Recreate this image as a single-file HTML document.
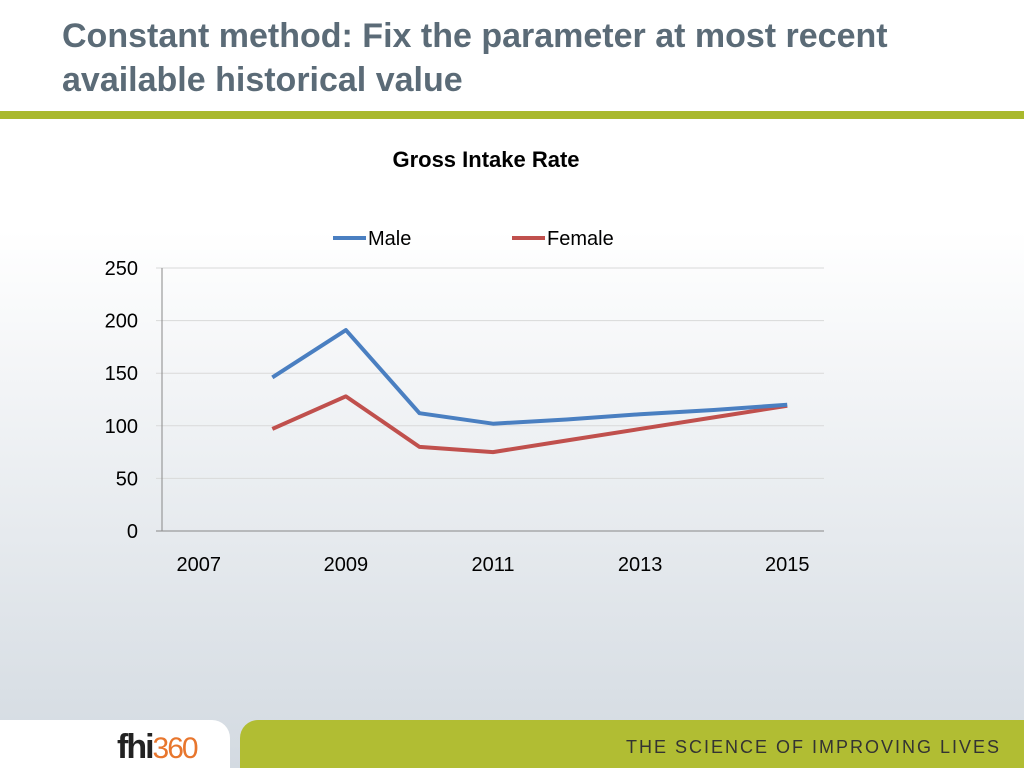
<!DOCTYPE html>
<html><head><meta charset="utf-8"><style>
body{margin:0;width:1024px;height:768px;overflow:hidden;font-family:"Liberation Sans",sans-serif;background:linear-gradient(#ffffff 0px,#ffffff 230px,#d3dae1 768px);position:relative}
.t{position:absolute;left:62px;top:14px;font-size:34px;font-weight:bold;color:#5b6b77;line-height:44px;width:920px}
</style></head><body>
<div class="t">Constant method: Fix the parameter at most recent available historical value</div>
<div style="position:absolute;left:0;top:111px;width:1024px;height:8px;background:#a9b92c"></div>
<svg width="1024" height="768" style="position:absolute;left:0;top:0" id="c">
<text x="486" y="167" text-anchor="middle" font-size="22" font-weight="bold" fill="#000">Gross Intake Rate</text>
<g>
<line x1="333" y1="238" x2="366" y2="238" stroke="#4a7fc1" stroke-width="4"/><text x="368" y="245" font-size="20">Male</text>
<line x1="512" y1="238" x2="545" y2="238" stroke="#c0504d" stroke-width="4"/><text x="547" y="245" font-size="20">Female</text>
</g>
<g id="axes"></g><g id="marks"></g>
</svg>
<div style="position:absolute;left:0;top:720px;width:230px;height:48px;background:#fff;border-top-right-radius:18px"></div>
<div style="position:absolute;left:117px;top:728px;font-size:34px;font-weight:bold;color:#222;letter-spacing:-2px">fhi<span style="color:#e8762d;font-weight:normal;font-size:30px">360</span></div>
<div style="position:absolute;left:240px;top:720px;width:784px;height:48px;background:#b1bd33;border-top-left-radius:18px"></div>
<div style="position:absolute;left:626px;top:737px;font-size:18px;letter-spacing:2px;color:#333">THE SCIENCE OF IMPROVING LIVES</div>
<script>
const years=[2007,2008,2009,2010,2011,2012,2013,2014,2015];
const tickLabels=["2007","2009","2011","2013","2015"];
const yTicks=[0,50,100,150,200,250];
const maleYears=[2008,2009,2010,2011,2012,2013,2014,2015];
const male=[146,191,112,102,106,111,115,120];
const female=[97,128,80,75,86,97,108,119];
const NS="http://www.w3.org/2000/svg";
const L=162,R=824,T=268,B=531;
const step=(R-L)/years.length;
const x=y=>L+(y-years[0]+0.5)*step;
const yS=v=>B-(v/250)*(B-T);
const ax=document.getElementById('axes'),mk=document.getElementById('marks');
function mkEl(t,a,p){const e=document.createElementNS(NS,t);for(const k in a)e.setAttribute(k,a[k]);p.appendChild(e);return e;}
yTicks.forEach(v=>{
 const g=mkEl('line',{x1:L-6,x2:R,y1:yS(v),y2:yS(v),stroke:v?'#d9d9d9':'#888','stroke-width':1},ax);
 
 
 const t=mkEl('text',{x:138,y:yS(v)+7,'text-anchor':'end','font-size':20},ax);t.textContent=v;
 
 
});
mkEl('line',{x1:L,x2:L,y1:T,y2:B,stroke:'#888'},ax);
tickLabels.forEach(s=>{
 const t=mkEl('text',{x:x(+s),y:571,'text-anchor':'middle','font-size':20},ax);t.textContent=s;
 
 
});
function line(d,c,n){
 const p=mkEl('polyline',{points:d.map((v,i)=>x(maleYears[i])+','+yS(v)).join(' '),fill:'none',stroke:c,'stroke-width':4,'stroke-linejoin':'round'},mk);
 
 
}
line(female,'#c0504d','female-line');
line(male,'#4a7fc1','male-line');
</script>
</body></html>
